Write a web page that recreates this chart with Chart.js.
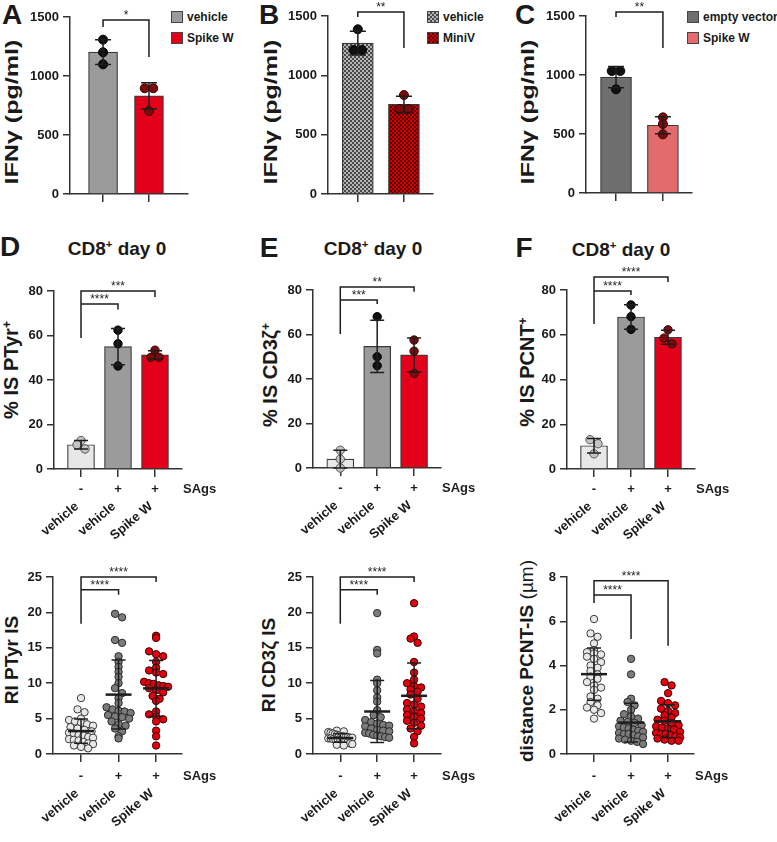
<!DOCTYPE html>
<html>
<head>
<meta charset="utf-8">
<script src="https://cdn.jsdelivr.net/npm/chart.js@4.4.1/dist/chart.umd.min.js"></script>
<style>
  body { margin: 0; background: #fff; }
  #fig { position: relative; width: 777px; height: 842px; overflow: hidden;
         font-family: 'Liberation Sans', Arial, sans-serif; color: #1a1a1a; }
  #fig canvas { position: absolute; }
  .lbl { position: absolute; white-space: nowrap; line-height: 1; font-weight: bold;
         transform: translate(-50%, -50%); }
  .letter { font-size: 28px; }
  .title { font-size: 19px; }
  .ytitle { font-size: 19px; transform: translate(-50%, -50%) rotate(-90deg); }
  .ytitle.wide { transform: translate(-50%, -50%) rotate(-90deg) scaleX(1.32); }
  .ytitle .thin { font-weight: normal; }
  .lbl sup { font-size: 60%; vertical-align: 0.55em; line-height: 0; }
  .leg { position: absolute; display: flex; align-items: center; font-size: 12px;
         font-weight: bold; line-height: 1; white-space: nowrap; }
  .leg i { display: inline-block; width: 10px; height: 10px; border: 1px solid #444; margin-right: 4px; }
</style>
</head>
<body>
<div id="fig">
  <div class="lbl letter" style="left:12px;top:15px">A</div>
  <div class="lbl letter" style="left:269px;top:15px">B</div>
  <div class="lbl letter" style="left:525px;top:15px">C</div>
  <div class="lbl letter" style="left:10px;top:247px">D</div>
  <div class="lbl letter" style="left:269px;top:248px">E</div>
  <div class="lbl letter" style="left:524px;top:248px">F</div>

  <div class="lbl title" style="left:117px;top:248px">CD8<sup>+</sup> day 0</div>
  <div class="lbl title" style="left:373px;top:248px">CD8<sup>+</sup> day 0</div>
  <div class="lbl title" style="left:621px;top:249px">CD8<sup>+</sup> day 0</div>

  <div class="lbl ytitle wide" style="left:11px;top:112px">IFNγ (pg/ml)</div>
  <div class="lbl ytitle wide" style="left:270px;top:112px">IFNγ (pg/ml)</div>
  <div class="lbl ytitle wide" style="left:527px;top:112px">IFNγ (pg/ml)</div>
  <div class="lbl ytitle" style="left:11px;top:370px;font-size:20px">% IS PTyr<sup>+</sup></div>
  <div class="lbl ytitle" style="left:270px;top:375px;font-size:20px">% IS CD3ζ<sup>+</sup></div>
  <div class="lbl ytitle" style="left:527px;top:372px;font-size:20px">% IS PCNT<sup>+</sup></div>
  <div class="lbl ytitle" style="left:11px;top:660px">RI PTyr IS</div>
  <div class="lbl ytitle" style="left:268px;top:665px">RI CD3ζ IS</div>
  <div class="lbl ytitle" style="left:526px;top:661px">distance PCNT-IS <span class="thin">(µm)</span></div>

  <div class="leg" style="left:171px;top:11px"><i style="background:#9b9b9b"></i>vehicle</div>
  <div class="leg" style="left:171px;top:32px"><i style="background:#e2001a"></i>Spike W</div>
  <div class="leg" style="left:427px;top:11px"><i style="background:repeating-conic-gradient(#4a4a4a 0 25%, #b4b4b4 0 50%) 0 0/4px 4px"></i>vehicle</div>
  <div class="leg" style="left:427px;top:32px"><i style="background:repeating-conic-gradient(#d40000 0 25%, #5a0000 0 50%) 0 0/4px 4px"></i>MiniV</div>
  <div class="leg" style="left:687px;top:11px"><i style="background:#6e6e6e"></i>empty vector</div>
  <div class="leg" style="left:687px;top:32px"><i style="background:#e36b6b"></i>Spike W</div>
</div>
<script>
// --- values ---
const yTicksIFN = [0, 500, 1000, 1500];
const yTicksPct = [0, 20, 40, 60, 80];
const yTicksRI = [0, 5, 10, 15, 20, 25];
const yTicksDist = [0, 2, 4, 6, 8];

const groupLabels = ['vehicle', 'vehicle', 'Spike W'];
const sagsRow = ['-', '+', '+'];
const sagsLabel = 'SAgs';

// A, B, C: IFNγ (pg/ml)
const aVehicle = [1308, 1201, 1099];
const aSpikeW = [896, 896, 703];
const bVehicle = [1388, 1213, 1213];
const bMiniV = [834, 716, 716];
const cEmptyVector = [1034, 1034, 879];
const cSpikeW = [641, 585, 497];

// D, E, F: % IS positive
const ptyrPctCtrl = [12.8, 10.9, 9.0];
const ptyrPctVeh = [62.4, 56.3, 46.3];
const ptyrPctSpike = [53.4, 50.2, 50.2];
const cd3PctCtrl = [8.0, 4.0, 0.0];
const cd3PctVeh = [68, 50, 46];
const cd3PctSpike = [57.5, 52.5, 42.5];
const pcntPctCtrl = [13.1, 11.3, 6.8];
const pcntPctVeh = [73.3, 68.1, 62.4];
const pcntPctSpike = [62.2, 58.5, 55.9];

// bottom row: single cells
const ptyrRICtrl = [7.9, 6.3, 5.9, 5.0, 4.8, 4.6, 4.4, 4.2, 4.0, 3.8, 3.6, 3.4, 3.2, 3.0, 2.9, 2.7, 2.6, 2.4, 2.3, 2.1, 2.0, 1.9, 1.7, 1.5, 1.4, 1.2, 1.0, 0.8];
const ptyrRIVeh = [19.8, 19.3, 16.1, 15.7, 13.8, 13.0, 12.3, 11.6, 10.9, 10.0, 9.3, 8.6, 7.9, 7.2, 6.6, 6.3, 6.1, 6.0, 5.8, 5.5, 5.3, 5.2, 5.0, 4.6, 4.2, 4.0, 3.6, 3.2, 2.5, 2.2];
const ptyrRISpike = [16.7, 16.4, 14.5, 14.1, 13.8, 13.0, 12.2, 11.8, 11.5, 11.3, 10.2, 10.0, 9.9, 9.7, 9.6, 9.5, 9.3, 9.0, 8.7, 8.2, 7.8, 7.5, 6.0, 5.6, 5.3, 4.9, 4.6, 3.3, 2.5, 1.2];
const cd3RICtrl = [3.3, 3.2, 3.1, 3.0, 2.9, 2.8, 2.7, 2.6, 2.5, 2.5, 2.4, 2.4, 2.3, 2.3, 2.2, 2.2, 2.1, 2.0, 2.0, 1.9, 1.8, 1.7, 1.6, 1.5, 1.4, 1.3, 1.2];
const cd3RIVeh = [19.9, 14.7, 14.2, 10.5, 10.0, 9.0, 8.0, 7.4, 6.2, 5.5, 5.2, 4.8, 4.5, 4.3, 4.1, 4.0, 3.9, 3.6, 3.4, 3.3, 3.2, 3.0, 2.9, 2.7, 2.6, 2.5, 2.4, 2.3];
const cd3RISpike = [21.3, 16.6, 16.3, 15.7, 13.0, 11.5, 10.5, 10.0, 9.6, 9.4, 9.1, 8.8, 8.4, 7.8, 7.2, 7.0, 6.7, 6.3, 6.0, 5.8, 5.5, 5.3, 5.0, 4.7, 4.4, 4.0, 3.6, 3.2, 2.4, 1.5];
const pcntDistCtrl = [6.1, 5.45, 5.3, 5.0, 4.7, 4.6, 4.55, 4.5, 4.4, 4.3, 4.15, 4.0, 3.9, 3.75, 3.6, 3.5, 3.4, 3.25, 3.1, 3.0, 2.9, 2.6, 2.5, 2.35, 2.2, 2.1, 2.0, 1.85, 1.6];
const pcntDistVeh = [4.3, 3.6, 2.5, 2.35, 2.2, 2.0, 1.8, 1.7, 1.6, 1.5, 1.45, 1.4, 1.3, 1.25, 1.2, 1.15, 1.1, 1.05, 1.0, 0.95, 0.9, 0.9, 0.85, 0.8, 0.75, 0.7, 0.65, 0.6, 0.55, 0.45];
const pcntDistSpike = [3.25, 3.1, 2.75, 2.4, 2.3, 2.2, 2.05, 1.95, 1.85, 1.75, 1.65, 1.55, 1.5, 1.4, 1.3, 1.25, 1.2, 1.15, 1.1, 1.0, 0.95, 0.9, 0.9, 0.85, 0.8, 0.75, 0.7, 0.65, 0.6, 0.6];

Chart.defaults.font.family = "'Liberation Sans', Arial, sans-serif";

const mean = a => a.reduce((s, v) => s + v, 0) / a.length;
const sd = a => { const m = mean(a); return Math.sqrt(a.reduce((s, v) => s + (v - m) ** 2, 0) / (a.length - 1)); };

// spread dots of similar value side by side (GraphPad style rows), capped width
function swarmOffsets(vals, pxY, pxX, r, maxHalf) {
    const binH = 2 * r * 0.85, gap = 2 * r * 0.95;
    const bins = {};
    vals.forEach((v, i) => {
        const b = Math.round(v * pxY / binH);
        (bins[b] = bins[b] || []).push(i);
    });
    const off = new Array(vals.length).fill(0);
    Object.values(bins).forEach(idx => {
        const n = idx.length;
        const step = n > 1 ? Math.min(gap, 2 * maxHalf / (n - 1)) : 0;
        idx.forEach((i, j) => { off[i] = (j - (n - 1) / 2) * step / pxX; });
    });
    return off;
}

function checker(c1, c2) {
    const c = document.createElement('canvas');
    c.width = 4; c.height = 4;
    const g = c.getContext('2d');
    g.fillStyle = c1; g.fillRect(0, 0, 4, 4);
    g.fillStyle = c2; g.fillRect(0, 0, 2, 2); g.fillRect(2, 2, 2, 2);
    return g.createPattern(c, 'repeat');
}

// error bars, mean lines, significance brackets, SAgs row
function makeExtras(p) {
    return {
        id: 'extras' + p.id,
        afterDatasetsDraw(chart) {
            const { ctx, chartArea, scales: { x, y } } = chart;
            ctx.save();
            ctx.strokeStyle = '#1e1e1e';
            ctx.fillStyle = '#1e1e1e';
            p.groups.forEach((g, i) => {
                const m = mean(g), s = sd(g), cx = x.getPixelForValue(i);
                const yt = y.getPixelForValue(m + s), yb = y.getPixelForValue(m - s);
                ctx.lineWidth = 1.5;
                ctx.beginPath();
                ctx.moveTo(cx, yt); ctx.lineTo(cx, yb);
                ctx.moveTo(cx - p.cap, yt); ctx.lineTo(cx + p.cap, yt);
                ctx.moveTo(cx - p.cap, yb); ctx.lineTo(cx + p.cap, yb);
                ctx.stroke();
                if (p.meanHalf) {
                    const ym = y.getPixelForValue(m);
                    ctx.lineWidth = 2.5;
                    ctx.beginPath();
                    ctx.moveTo(cx - p.meanHalf, ym); ctx.lineTo(cx + p.meanHalf, ym);
                    ctx.stroke();
                }
            });

            ctx.lineWidth = 1.5;
            ctx.font = "12px 'Liberation Sans'";
            ctx.textAlign = 'center';
            ctx.textBaseline = 'alphabetic';
            p.brackets.forEach(b => {
                const x1 = x.getPixelForValue(b.from), x2 = x.getPixelForValue(b.to);
                const yl = y.getPixelForValue(b.level);
                ctx.beginPath();
                ctx.moveTo(x1, y.getPixelForValue(b.leftEnd));
                ctx.lineTo(x1, yl); ctx.lineTo(x2, yl);
                ctx.lineTo(x2, y.getPixelForValue(b.rightEnd));
                ctx.stroke();
                ctx.fillText(b.text, (x1 + x2) / 2, yl - 1);
            });

            if (p.signDy) {
                ctx.font = "bold 13px 'Liberation Sans'";
                ctx.textBaseline = 'middle';
                const ys = chartArea.bottom + p.signDy;
                sagsRow.forEach((s, i) => ctx.fillText(s, x.getPixelForValue(i), ys));
                ctx.textAlign = 'left';
                ctx.fillText(sagsLabel, chartArea.right + 1, ys);
            }
            ctx.restore();
        }
    };
}

const fig = document.getElementById('fig');

function buildPanel(p) {
    const [cl, ct, cw, ch] = p.canvas;
    const [L, T, R, B] = p.area;
    const cv = document.createElement('canvas');
    cv.width = cw; cv.height = ch;
    cv.style.left = cl + 'px'; cv.style.top = ct + 'px';
    fig.appendChild(cv);

    const pxY = (B - T) / p.yMax, pxX = (R - L) / (p.xMax - p.xMin);
    const pts = [], fills = [], edges = [];
    p.groups.forEach((g, gi) => {
        const off = swarmOffsets(g, pxY, pxX, p.r, p.maxHalf);
        g.forEach((v, k) => {
            pts.push({ x: gi + off[k], y: v });
            fills.push(p.dotFill[gi]);
            edges.push(p.dotEdge[gi]);
        });
    });

    const datasets = [{
        type: 'scatter', data: pts, order: 1, clip: false,
        pointRadius: p.r, pointHoverRadius: p.r,
        pointBackgroundColor: fills, pointBorderColor: edges, pointBorderWidth: 1
    }];
    if (p.barFill) {
        datasets.push({
            type: 'bar', order: 2,
            data: p.groups.map((g, gi) => ({ x: gi, y: mean(g) })),
            backgroundColor: p.barFill, borderColor: '#3a3a3a', borderWidth: 1.2,
            barThickness: p.barWidth
        });
    }

    new Chart(cv, {
        type: 'scatter',
        data: { datasets },
        options: {
            responsive: false,
            animation: false,
            layout: { padding: { left: 0, top: T - ct, right: cl + cw - R, bottom: 0 } },
            plugins: { legend: { display: false }, tooltip: { enabled: false } },
            scales: {
                x: {
                    type: 'linear', min: p.xMin, max: p.xMax, offset: false,
                    afterBuildTicks: s => { s.ticks = p.groups.map((_, i) => ({ value: i })); },
                    afterFit: s => { s.height = ct + ch - B; },
                    grid: { offset: false, drawOnChartArea: false, tickLength: 8, color: '#333', lineWidth: 1.5 },
                    border: { color: '#333', width: 1.5 },
                    ticks: {
                        autoSkip: false, minRotation: 40, maxRotation: 40,
                        padding: p.labelPad || 0, labelOffset: -4,
                        color: '#1a1a1a', font: { size: 13, weight: 'bold' },
                        callback: (v, i) => p.xLabels ? p.xLabels[i] : ''
                    }
                },
                y: {
                    min: 0, max: p.yMax,
                    afterBuildTicks: s => { s.ticks = p.yTicks.map(v => ({ value: v })); },
                    afterFit: s => { s.width = L - cl; },
                    grid: { drawOnChartArea: false, tickLength: 7, color: '#333', lineWidth: 1.5 },
                    border: { color: '#333', width: 1.5 },
                    ticks: { padding: 4, color: '#1a1a1a', font: { size: 13, weight: 'bold' },
                             callback: v => String(v) }
                }
            }
        },
        plugins: [makeExtras(p)]
    });
}

const topDots = { r: 4.5, cap: 8, maxHalf: 8 };
const midDots = { r: 4.2, cap: 7, maxHalf: 8, xLabels: groupLabels, signDy: 20, barWidth: 27, labelPad: 22 };
const lowDots = { r: 3.7, cap: 7, maxHalf: 12, meanHalf: 13, xLabels: groupLabels, signDy: 22, labelPad: 24,
                  dotFill: ['#e8e8e8', '#7b7b7b', '#e3000f'], dotEdge: ['#3a3a3a', '#2a2a2a', '#3a0000'] };

const panels = [
    { id: 'A', ...topDots, canvas: [0, 0, 258, 215], area: [70, 17, 188, 194], xMin: -0.72, xMax: 1.85,
      yMax: 1500, yTicks: yTicksIFN, groups: [aVehicle, aSpikeW], barWidth: 29,
      barFill: ['#9b9b9b', '#e2001a'], dotFill: ['#111', '#7d0b0b'], dotEdge: ['#000', '#3a0000'],
      brackets: [{ from: 0, to: 1, level: 1475, leftEnd: 1415, rightEnd: 1161, text: '*' }] },
    { id: 'B', ...topDots, canvas: [258, 0, 258, 215], area: [328, 16, 433, 194], xMin: -0.646, xMax: 1.63,
      yMax: 1500, yTicks: yTicksIFN, groups: [bVehicle, bMiniV], barWidth: 31,
      barFill: [checker('#b4b4b4', '#4a4a4a'), checker('#5a0000', '#d40000')],
      dotFill: ['#111', '#7d0b0b'], dotEdge: ['#000', '#3a0000'],
      brackets: [{ from: 0, to: 1, level: 1534, leftEnd: 1492, rightEnd: 1230, text: '**' }] },
    { id: 'C', ...topDots, canvas: [515, 0, 262, 215], area: [586, 16, 692, 193], xMin: -0.64, xMax: 1.62,
      yMax: 1500, yTicks: yTicksIFN, groups: [cEmptyVector, cSpikeW], barWidth: 31,
      barFill: ['#6e6e6e', '#e36b6b'], dotFill: ['#111', '#7d0b0b'], dotEdge: ['#000', '#3a0000'],
      brackets: [{ from: 0, to: 1, level: 1534, leftEnd: 1492, rightEnd: 1229, text: '**' }] },

    { id: 'D', ...midDots, canvas: [0, 215, 258, 330], area: [54, 291, 182, 469], xMin: -0.73, xMax: 2.73,
      yMax: 80, yTicks: yTicksPct, groups: [ptyrPctCtrl, ptyrPctVeh, ptyrPctSpike],
      barFill: ['#e8e8e8', '#9b9b9b', '#e2001a'], dotFill: ['#c4c4c4', '#111', '#7d0b0b'], dotEdge: ['#555', '#000', '#3a0000'],
      brackets: [{ from: 0, to: 2, level: 80, leftEnd: 58.9, rightEnd: 77.3, text: '***' },
                 { from: 0, to: 1, level: 74.2, leftEnd: 74.2, rightEnd: 71.7, text: '****' }] },
    { id: 'E', ...midDots, canvas: [258, 215, 258, 330], area: [313, 290, 441, 468], xMin: -0.74, xMax: 2.73,
      yMax: 80, yTicks: yTicksPct, groups: [cd3PctCtrl, cd3PctVeh, cd3PctSpike],
      barFill: ['#e8e8e8', '#9b9b9b', '#e2001a'], dotFill: ['#c4c4c4', '#111', '#7d0b0b'], dotEdge: ['#555', '#000', '#3a0000'],
      brackets: [{ from: 0, to: 2, level: 81.3, leftEnd: 60.2, rightEnd: 79.2, text: '**' },
                 { from: 0, to: 1, level: 75.5, leftEnd: 75.5, rightEnd: 73.7, text: '***' }] },
    { id: 'F', ...midDots, canvas: [515, 215, 262, 330], area: [567, 290, 695, 469], xMin: -0.73, xMax: 2.73,
      yMax: 80, yTicks: yTicksPct, groups: [pcntPctCtrl, pcntPctVeh, pcntPctSpike],
      barFill: ['#e8e8e8', '#9b9b9b', '#e2001a'], dotFill: ['#c4c4c4', '#111', '#7d0b0b'], dotEdge: ['#555', '#000', '#3a0000'],
      brackets: [{ from: 0, to: 2, level: 85.8, leftEnd: 64.8, rightEnd: 83.6, text: '****' },
                 { from: 0, to: 1, level: 79.6, leftEnd: 79.6, rightEnd: 77.8, text: '****' }] },

    { id: 'G', ...lowDots, canvas: [0, 545, 258, 297], area: [53, 577, 182, 754], xMin: -0.747, xMax: 2.69,
      yMax: 25, yTicks: yTicksRI, groups: [ptyrRICtrl, ptyrRIVeh, ptyrRISpike],
      brackets: [{ from: 0, to: 2, level: 25, leftEnd: 18.4, rightEnd: 24.3, text: '****' },
                 { from: 0, to: 1, level: 23.2, leftEnd: 23.2, rightEnd: 22.5, text: '****' }] },
    { id: 'H', ...lowDots, canvas: [258, 545, 258, 297], area: [313, 577, 441, 754], xMin: -0.74, xMax: 2.73,
      yMax: 25, yTicks: yTicksRI, groups: [cd3RICtrl, cd3RIVeh, cd3RISpike],
      brackets: [{ from: 0, to: 2, level: 25, leftEnd: 18.4, rightEnd: 24.3, text: '****' },
                 { from: 0, to: 1, level: 23.2, leftEnd: 23.2, rightEnd: 22.5, text: '****' }] },
    { id: 'I', ...lowDots, canvas: [515, 545, 262, 297], area: [567, 577, 694, 754], xMin: -0.73, xMax: 2.7,
      yMax: 8, yTicks: yTicksDist, groups: [pcntDistCtrl, pcntDistVeh, pcntDistSpike],
      brackets: [{ from: 0, to: 2, level: 7.83, leftEnd: 6.83, rightEnd: 4.89, text: '****' },
                 { from: 0, to: 1, level: 7.19, leftEnd: 7.19, rightEnd: 5.2, text: '****' }] }
];

panels.forEach(buildPanel);
</script>
</body>
</html>
